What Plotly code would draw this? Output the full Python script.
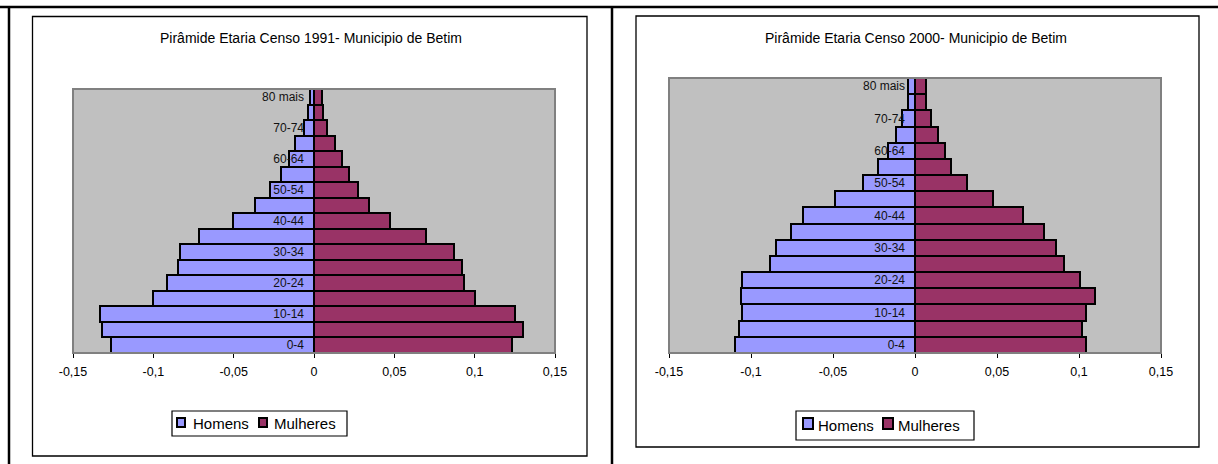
import plotly.graph_objects as go

W, H = 1218, 464

# Age groups, bottom to top
age_groups = ['0-4', '5-9', '10-14', '15-19', '20-24', '25-29', '30-34', '35-39',
              '40-44', '45-49', '50-54', '55-59', '60-64', '65-69', '70-74',
              '75-79', '80 mais']
shown_age_ticks = age_groups[::2]

# Population shares (men plotted as negative values)
homens_1991 = [-0.1265, -0.1317, -0.1334, -0.1005, -0.0913, -0.0846, -0.0832, -0.0713,
               -0.0507, -0.0366, -0.0277, -0.0206, -0.0158, -0.0116, -0.0063, -0.0039, -0.0027]
mulheres_1991 = [0.1230, 0.1300, 0.1254, 0.1000, 0.0936, 0.0922, 0.0871, 0.0696,
                 0.0471, 0.0340, 0.0274, 0.0218, 0.0177, 0.0129, 0.0082, 0.0056, 0.0049]
homens_2000 = [-0.1100, -0.1074, -0.1052, -0.1064, -0.1052, -0.0882, -0.0847, -0.0754,
               -0.0681, -0.0486, -0.0320, -0.0223, -0.0164, -0.0114, -0.0081, -0.0040, -0.0040]
mulheres_2000 = [0.1041, 0.1016, 0.1041, 0.1099, 0.1005, 0.0906, 0.0858, 0.0787,
                 0.0657, 0.0474, 0.0318, 0.0221, 0.0185, 0.0140, 0.0100, 0.0066, 0.0066]

x_tick_values = [-0.15, -0.1, -0.05, 0, 0.05, 0.1, 0.15]
x_tick_labels = ['-0,15', '-0,1', '-0,05', '0', '0,05', '0,1', '0,15']

series_names = ['Homens', 'Mulheres']
titles = ['Pirâmide Etaria Censo 1991- Municipio de Betim',
          'Pirâmide Etaria Censo 2000- Municipio de Betim']

HOMENS_COLOR = '#9999FF'
MULHERES_COLOR = '#993366'
FONT = 'Liberation Sans, Arial, sans-serif'


def px_x(v):
    return v / W


def px_y(v):
    return 1 - v / H


# Pixel layout of each panel: plot area, chart frame, title and key box
panels = [
    dict(plot=(73, 89, 555, 353), box=(32.5, 16.5, 587, 456), title_x=311,
         key_box=(172, 411, 347, 436),
         key_items=[((177, 418, 185, 427), 191), ((259, 418, 267, 427), 272)],
         homens=homens_1991, mulheres=mulheres_1991),
    dict(plot=(669, 78, 1161, 353), box=(636, 16, 1199, 447), title_x=916,
         key_box=(796, 411, 974, 440),
         key_items=[((803, 418, 813, 429), 816), ((883, 418, 893, 429), 896)],
         homens=homens_2000, mulheres=mulheres_2000),
]

fig = go.Figure()
layout = dict(
    width=W, height=H,
    margin=dict(l=0, r=0, t=0, b=0, pad=0, autoexpand=False),
    paper_bgcolor='white', plot_bgcolor='#C0C0C0',
    barmode='relative', bargap=0, showlegend=False,
    font=dict(family=FONT, size=12, color='black'),
    shapes=[], annotations=[],
)

for i, p in enumerate(panels):
    n = '' if i == 0 else str(i + 1)
    xa, ya = 'x' + n, 'y' + n
    l, t, r, b = p['plot']

    colors = [HOMENS_COLOR, MULHERES_COLOR]
    for name, values, color in zip(series_names, [p['homens'], p['mulheres']], colors):
        fig.add_trace(go.Bar(
            y=age_groups, x=values, orientation='h', name=name,
            marker=dict(color=color, line=dict(color='black', width=2)),
            xaxis=xa, yaxis=ya))

    layout['xaxis' + n] = dict(
        domain=[px_x(l), px_x(r)], range=[-0.15, 0.15], anchor=ya,
        tickvals=x_tick_values, ticktext=x_tick_labels,
        ticks='outside', ticklen=4, tickcolor='black', tickwidth=1,
        showgrid=False, zeroline=False, showline=False,
        tickfont=dict(size=12.5, color='black'), ticklabelstandoff=3)
    zero_px = (l + r) / 2
    layout['yaxis' + n] = dict(
        domain=[px_y(b), px_y(t)], type='category',
        categoryorder='array', categoryarray=age_groups,
        range=[-0.5, len(age_groups) - 0.5],
        anchor='free', position=px_x(zero_px),
        tickvals=shown_age_ticks, ticktext=shown_age_ticks,
        ticks='', showgrid=False, zeroline=False, showline=False,
        tickfont=dict(size=12, color='#111111'), ticklabelstandoff=10)

    # gray plot-area frame
    layout['shapes'].append(dict(
        type='rect', xref=xa + ' domain', yref=ya + ' domain',
        x0=0, x1=1, y0=0, y1=1, line=dict(color='#808080', width=2), layer='above'))
    # chart frame
    bl, bt, br, bb = p['box']
    layout['shapes'].append(dict(
        type='rect', xref='paper', yref='paper',
        x0=px_x(bl), x1=px_x(br), y0=px_y(bb), y1=px_y(bt),
        line=dict(color='black', width=1.3), layer='below'))
    # title
    layout['annotations'].append(dict(
        text=titles[i], xref='paper', yref='paper',
        x=px_x(p['title_x']), y=px_y(38), xanchor='center', yanchor='middle',
        showarrow=False, font=dict(size=14, color='black')))

    # series key
    kl, kt, kr, kb = p['key_box']
    layout['shapes'].append(dict(
        type='rect', xref='paper', yref='paper',
        x0=px_x(kl), x1=px_x(kr), y0=px_y(kb), y1=px_y(kt),
        line=dict(color='black', width=1.2), fillcolor='white', layer='below'))
    for (sq, text_x), name, color in zip(p['key_items'], series_names, colors):
        sx0, sy0, sx1, sy1 = sq
        layout['shapes'].append(dict(
            type='rect', xref='paper', yref='paper',
            x0=px_x(sx0), x1=px_x(sx1), y0=px_y(sy1), y1=px_y(sy0),
            line=dict(color='black', width=2), fillcolor=color, layer='above'))
        layout['annotations'].append(dict(
            text=name, xref='paper', yref='paper',
            x=px_x(text_x), y=px_y((kt + kb) / 2), xanchor='left', yanchor='middle',
            showarrow=False, font=dict(size=15, color='black')))

# table cell borders around the two charts
for x0, y0, x1, y1 in [(0, 7, W, 7), (9, 7, 9, H), (612, 7, 612, H)]:
    layout['shapes'].append(dict(
        type='line', xref='paper', yref='paper',
        x0=px_x(x0), x1=px_x(x1), y0=px_y(y0), y1=px_y(y1),
        line=dict(color='black', width=2.5)))

fig.update_layout(**layout)
fig.write_html('out.html')
